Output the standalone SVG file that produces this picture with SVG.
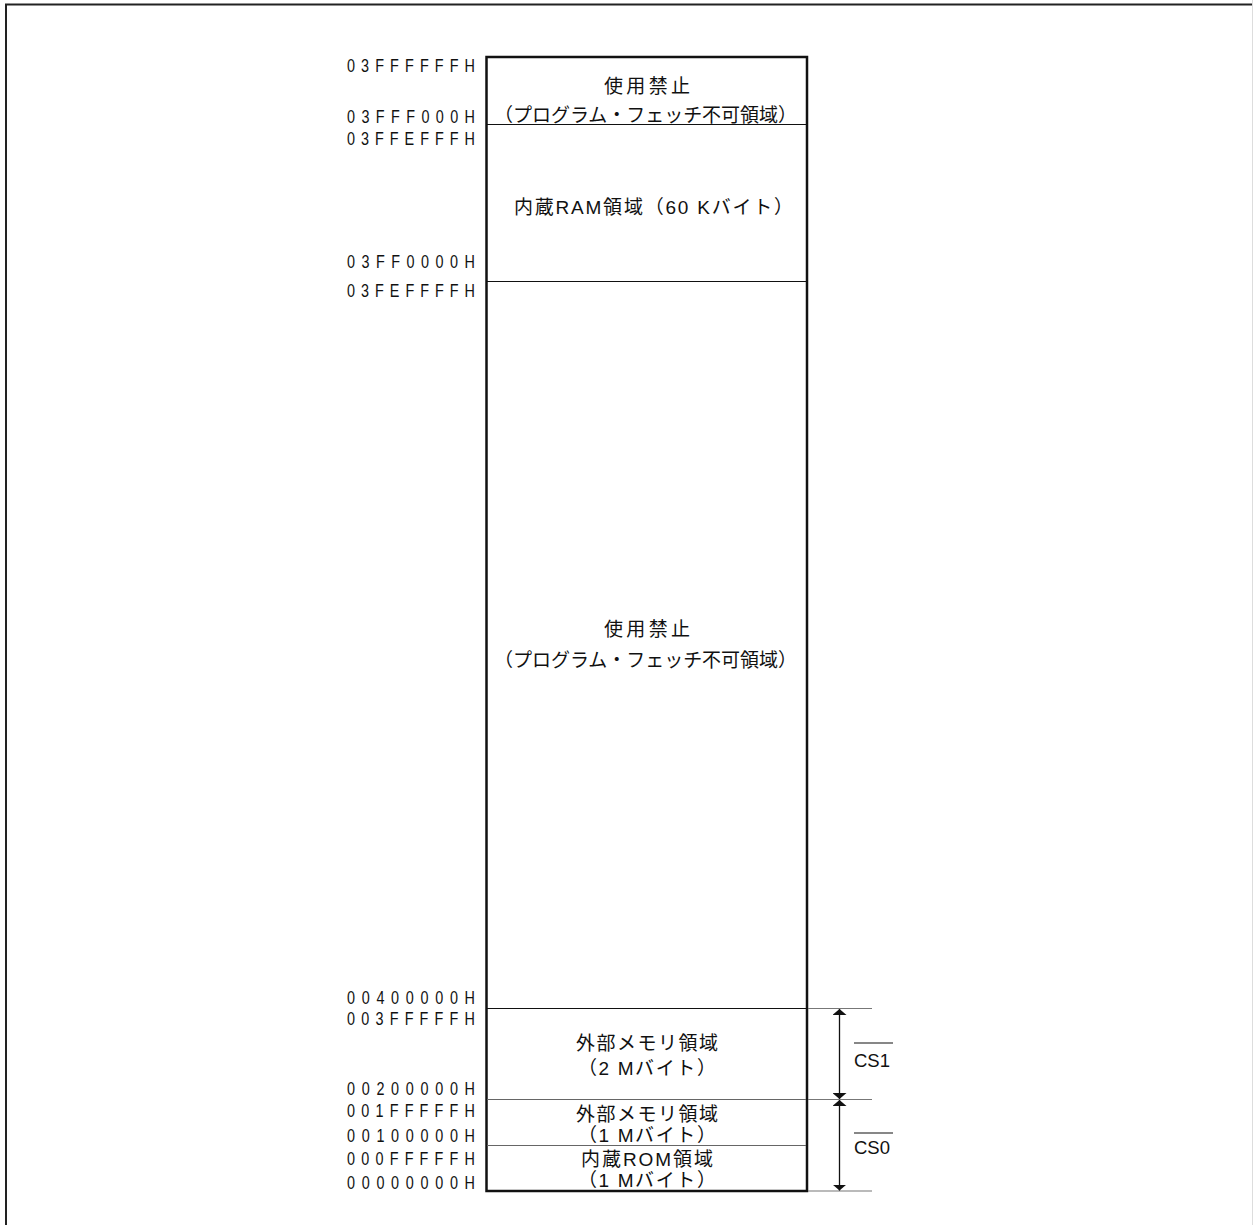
<svg xmlns="http://www.w3.org/2000/svg" width="1253" height="1225" viewBox="0 0 1253 1225">
<style>
.addr{font-family:"Liberation Sans","DejaVu Sans",sans-serif;font-size:18px;fill:#111;text-anchor:end}
.lbl{font-family:"Liberation Sans","Noto Sans CJK JP",sans-serif;font-size:19px;fill:#111}
.mid{text-anchor:middle}
.cs{font-family:"Liberation Sans",sans-serif;font-size:18.5px;fill:#111}
.box{fill:#fff;stroke:#111;stroke-width:2.5}
.sep{stroke:#111;stroke-width:1.2;fill:none}
.sepg{stroke:#666;stroke-width:1.2;fill:none}
.ext{stroke:#777;stroke-width:1.2;fill:none}
.arr{stroke:#111;stroke-width:1.3;fill:none}
</style>
<defs>
<marker id="ah" viewBox="0 0 10 10" refX="10" refY="5" markerWidth="6" markerHeight="14" orient="auto" markerUnits="userSpaceOnUse" preserveAspectRatio="none">
<path d="M0,0 L10,5 L0,10 Z" fill="#111"/>
</marker>
</defs>
<rect width="1253" height="1225" fill="#fff"/>
<path d="M6,1226 V4.5 H1253" fill="none" stroke="#222" stroke-width="2"/>
<line x1="1252.5" y1="0" x2="1252.5" y2="1225" stroke="#ddd" stroke-width="1"/>

<g id="memory-map">
<rect class="box" x="486.5" y="57" width="320.5" height="1134"/>
</g>

<g id="separators">
<line class="sep" x1="487" y1="124.5" x2="806" y2="124.5"/>
<line class="sep" x1="487" y1="281.5" x2="806" y2="281.5"/>
<line class="sep" x1="487" y1="1008.5" x2="806" y2="1008.5"/>
<line class="sepg" x1="487" y1="1099.5" x2="806" y2="1099.5"/>
<line class="sepg" x1="487" y1="1145.5" x2="806" y2="1145.5"/>
</g>

<g id="region-prohibited-top">
<text class="lbl" x="604" y="93" textLength="86" lengthAdjust="spacing">使用禁止</text>
<text class="lbl" x="494" y="122" textLength="303" lengthAdjust="spacing">（プログラム・フェッチ不可領域）</text>
</g>
<g id="region-ram">
<text class="lbl" x="514" y="214" textLength="279" lengthAdjust="spacing">内蔵RAM領域（60 Kバイト）</text>
</g>
<g id="region-prohibited-mid">
<text class="lbl" x="604" y="636" textLength="86" lengthAdjust="spacing">使用禁止</text>
<text class="lbl" x="494" y="667" textLength="303" lengthAdjust="spacing">（プログラム・フェッチ不可領域）</text>
</g>
<g id="region-ext2m">
<text class="lbl mid" x="647" y="1050" textLength="142" lengthAdjust="spacing">外部メモリ領域</text>
<text class="lbl mid" x="647" y="1075" textLength="138" lengthAdjust="spacing">（2 Mバイト）</text>
</g>
<g id="region-ext1m">
<text class="lbl mid" x="647" y="1121" textLength="142" lengthAdjust="spacing">外部メモリ領域</text>
<text class="lbl mid" x="647" y="1142" textLength="138" lengthAdjust="spacing">（1 Mバイト）</text>
</g>
<g id="region-rom">
<text class="lbl mid" x="647" y="1166" textLength="132" lengthAdjust="spacing">内蔵ROM領域</text>
<text class="lbl mid" x="647" y="1187" textLength="138" lengthAdjust="spacing">（1 Mバイト）</text>
</g>

<g id="addresses">
<text class="addr" transform="translate(475 72) scale(0.8 1)" textLength="160" lengthAdjust="spacing">03FFFFFFH</text>
<text class="addr" transform="translate(475 123) scale(0.8 1)" textLength="160" lengthAdjust="spacing">03FFF000H</text>
<text class="addr" transform="translate(475 145) scale(0.8 1)" textLength="160" lengthAdjust="spacing">03FFEFFFH</text>
<text class="addr" transform="translate(475 268) scale(0.8 1)" textLength="160" lengthAdjust="spacing">03FF0000H</text>
<text class="addr" transform="translate(475 297) scale(0.8 1)" textLength="160" lengthAdjust="spacing">03FEFFFFH</text>
<text class="addr" transform="translate(475 1004) scale(0.8 1)" textLength="160" lengthAdjust="spacing">00400000H</text>
<text class="addr" transform="translate(475 1025) scale(0.8 1)" textLength="160" lengthAdjust="spacing">003FFFFFH</text>
<text class="addr" transform="translate(475 1095) scale(0.8 1)" textLength="160" lengthAdjust="spacing">00200000H</text>
<text class="addr" transform="translate(475 1117) scale(0.8 1)" textLength="160" lengthAdjust="spacing">001FFFFFH</text>
<text class="addr" transform="translate(475 1142) scale(0.8 1)" textLength="160" lengthAdjust="spacing">00100000H</text>
<text class="addr" transform="translate(475 1165) scale(0.8 1)" textLength="160" lengthAdjust="spacing">000FFFFFH</text>
<text class="addr" transform="translate(475 1189) scale(0.8 1)" textLength="160" lengthAdjust="spacing">00000000H</text>
</g>

<g id="connectors">
<line class="ext" x1="808" y1="1008.5" x2="872" y2="1008.5"/>
<line class="ext" x1="808" y1="1099.5" x2="872" y2="1099.5"/>
<line class="ext" x1="808" y1="1191" x2="872" y2="1191"/>
<line class="arr" x1="839.5" y1="1054" x2="839.5" y2="1009" marker-end="url(#ah)"/>
<line class="arr" x1="839.5" y1="1054" x2="839.5" y2="1099" marker-end="url(#ah)"/>
<line class="arr" x1="839.5" y1="1145" x2="839.5" y2="1100" marker-end="url(#ah)"/>
<line class="arr" x1="839.5" y1="1145" x2="839.5" y2="1190.5" marker-end="url(#ah)"/>
</g>

<g id="cs1">
<line x1="854" y1="1043" x2="893" y2="1043" stroke="#111" stroke-width="1.2"/>
<text class="cs" x="854" y="1067">CS1</text>
</g>
<g id="cs0">
<line x1="854" y1="1133" x2="893" y2="1133" stroke="#111" stroke-width="1.2"/>
<text class="cs" x="854" y="1154">CS0</text>
</g>
</svg>
